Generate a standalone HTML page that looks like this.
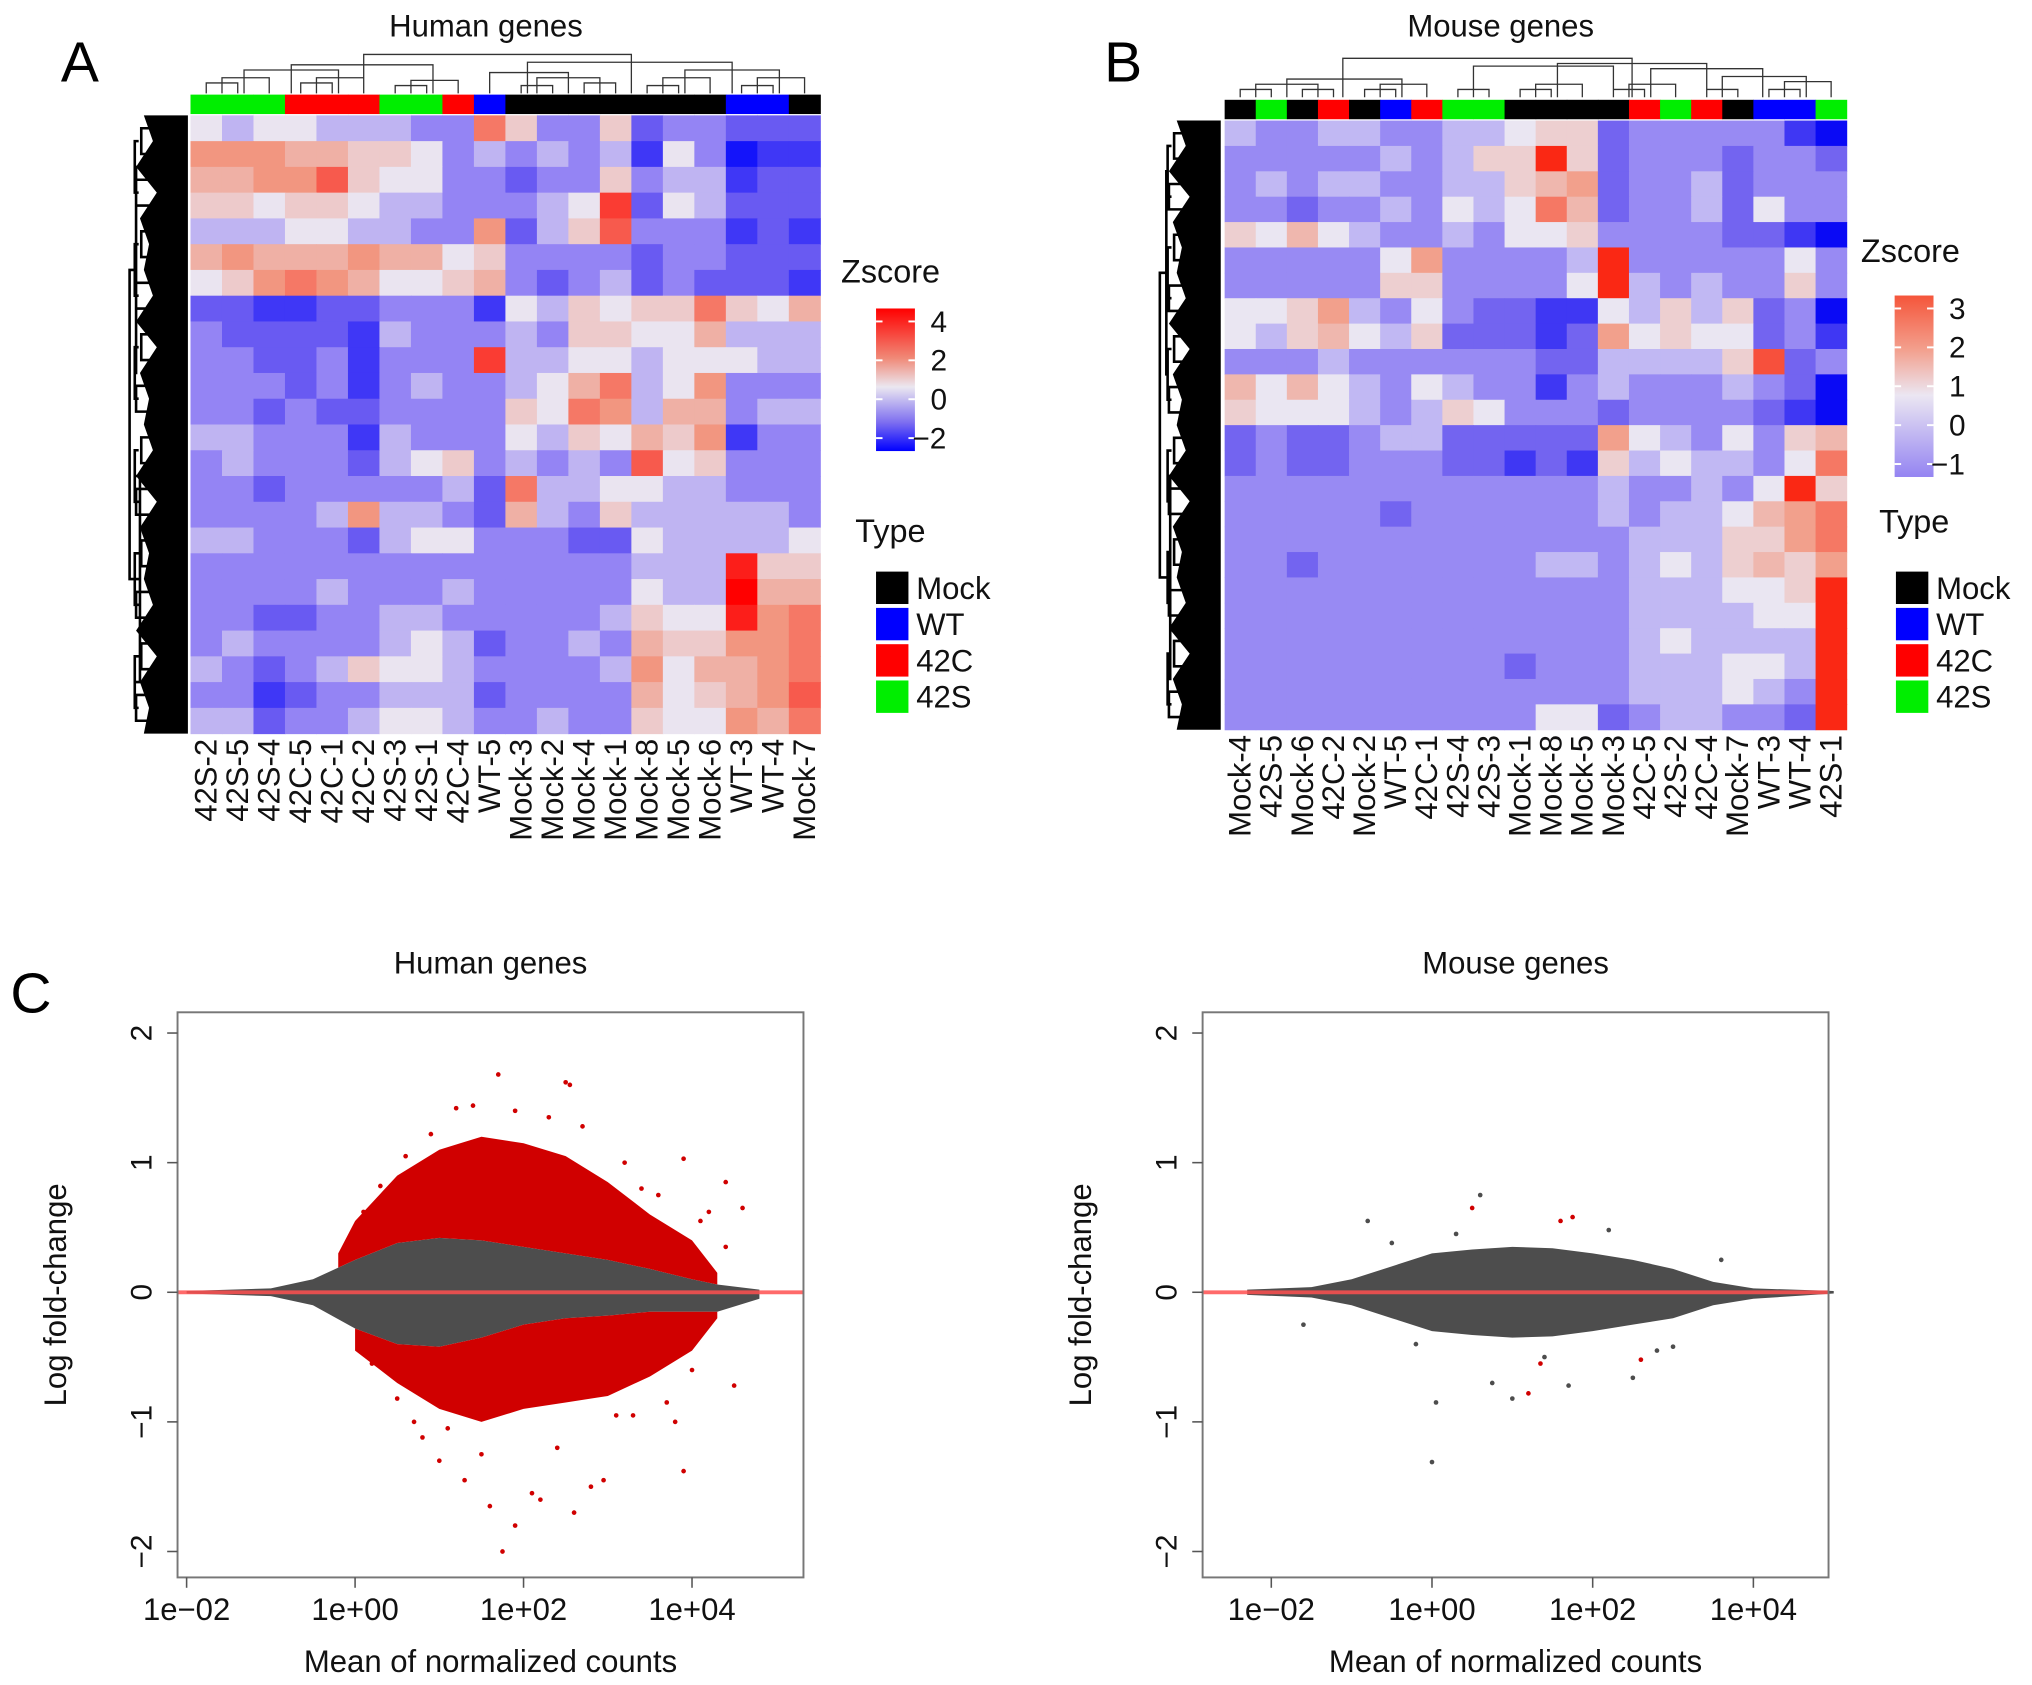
<!DOCTYPE html>
<html><head><meta charset="utf-8"><title>Heatmaps and MA plots</title>
<style>
html,body{margin:0;padding:0;background:#fff;}
svg{display:block;font-family:"Liberation Sans",Arial,sans-serif;}
</style></head>
<body>
<svg id="fig" width="2032" height="1685" viewBox="0 0 1568 1300" preserveAspectRatio="none" xmlns="http://www.w3.org/2000/svg">
<defs>
<linearGradient id="gA" x1="0" y1="0" x2="0" y2="1">
<stop offset="0" stop-color="#ff0000"/><stop offset="0.35" stop-color="#f08a78"/><stop offset="0.55" stop-color="#ebe7f0"/><stop offset="0.8" stop-color="#7d6ef0"/><stop offset="1" stop-color="#0000ff"/>
</linearGradient>
<linearGradient id="gB" x1="0" y1="0" x2="0" y2="1">
<stop offset="0" stop-color="#f5553a"/><stop offset="0.3" stop-color="#f3a08e"/><stop offset="0.55" stop-color="#ebe6f2"/><stop offset="1" stop-color="#9484f2"/>
</linearGradient>
</defs>
</svg>
<script>
// ---------- DATA ----------
const humanLabels = ["42S-2","42S-5","42S-4","42C-5","42C-1","42C-2","42S-3","42S-1","42C-4","WT-5","Mock-3","Mock-2","Mock-4","Mock-1","Mock-8","Mock-5","Mock-6","WT-3","WT-4","Mock-7"];
const mouseLabels = ["Mock-4","42S-5","Mock-6","42C-2","Mock-2","WT-5","42C-1","42S-4","42S-3","Mock-1","Mock-8","Mock-5","Mock-3","42C-5","42S-2","42C-4","Mock-7","WT-3","WT-4","42S-1"];
const typeNames = ["Mock","WT","42C","42S"];
const humanZ = [
[0,-0.5,0,0,-0.5,-0.5,-0.5,-1,-1,2,0.5,-1,-1,0.5,-1.5,-1,-1,-1.5,-1.5,-1.5],
[1.5,1.5,1.5,1,1,0.5,0.5,0,-1,-0.5,-1,-0.5,-1,-0.5,-2,0,-1,-2.5,-2,-2],
[1,1,1.5,1.5,2.5,0.5,0,0,-1,-1,-1.5,-1,-1,0.5,-1,-0.5,-0.5,-2,-1.5,-1.5],
[0.5,0.5,0,0.5,0.5,0,-0.5,-0.5,-1,-1,-1,-0.5,0,3,-1.5,0,-0.5,-1.5,-1.5,-1.5],
[-0.5,-0.5,-0.5,0,0,-0.5,-0.5,-1,-1,1.5,-1.5,-0.5,0.5,2.5,-1,-1,-1,-2,-1.5,-2],
[1,1.5,1,1,1,1.5,1,1,0,0.5,-1,-1,-1,-1,-1.5,-1,-1,-1.5,-1.5,-1.5],
[0,0.5,1.5,2,1.5,1,0,0,0.5,1,-1,-1.5,-1,-0.5,-1.5,-1,-1.5,-1.5,-1.5,-2],
[-1.5,-1.5,-2,-2,-1.5,-1.5,-1,-1,-1,-2,0,-0.5,0.5,0,0.5,0.5,2,0.5,0,1],
[-1,-1.5,-1.5,-1.5,-1.5,-2,-0.5,-1,-1,-1,-0.5,-1,0.5,0.5,0,0,1,-0.5,-0.5,-0.5],
[-1,-1,-1.5,-1.5,-1,-2,-1,-1,-1,3,-0.5,-0.5,0,0,-0.5,0,0,0,-0.5,-0.5],
[-1,-1,-1,-1.5,-1,-2,-1,-0.5,-1,-1,-0.5,0,1,2,-0.5,0,1.5,-1,-1,-1],
[-1,-1,-1.5,-1,-1.5,-1.5,-1,-1,-1,-1,0.5,0,2,1.5,-0.5,1,1,-1,-0.5,-0.5],
[-0.5,-0.5,-1,-1,-1,-2,-0.5,-1,-1,-1,0,-0.5,0.5,0,1,0.5,1.5,-2,-1,-1],
[-1,-0.5,-1,-1,-1,-1.5,-0.5,0,0.5,-1,-0.5,-1,-0.5,-1,2.5,0,0.5,-1,-1,-1],
[-1,-1,-1.5,-1,-1,-1,-1,-1,-0.5,-1.5,2,-0.5,-0.5,0,0,-0.5,-0.5,-1,-1,-1],
[-1,-1,-1,-1,-0.5,1.5,-0.5,-0.5,-1,-1.5,1,-0.5,-1,0.5,-0.5,-0.5,-0.5,-0.5,-0.5,-1],
[-0.5,-0.5,-1,-1,-1,-1.5,-0.5,0,0,-1,-1,-1,-1.5,-1.5,0,-0.5,-0.5,-0.5,-0.5,0],
[-1,-1,-1,-1,-1,-1,-1,-1,-1,-1,-1,-1,-1,-1,-0.5,-0.5,-0.5,3.5,0.5,0.5],
[-1,-1,-1,-1,-0.5,-1,-1,-1,-0.5,-1,-1,-1,-1,-1,0,-0.5,-0.5,4,1,1],
[-1,-1,-1.5,-1.5,-1,-1,-0.5,-0.5,-1,-1,-1,-1,-1,-0.5,0.5,0,0,3.5,1.5,2],
[-1,-0.5,-1,-1,-1,-1,-0.5,0,-0.5,-1.5,-1,-1,-0.5,-1,1,0.5,0.5,1.5,1.5,2],
[-0.5,-1,-1.5,-1,-0.5,0.5,0,0,-0.5,-1,-1,-1,-1,-0.5,1.5,0,1,1,1.5,2],
[-1,-1,-2,-1.5,-1,-1,-0.5,-0.5,-0.5,-1.5,-1,-1,-1,-1,1,0,0.5,1,1.5,2.5],
[-0.5,-0.5,-1.5,-1,-1,-0.5,0,0,-0.5,-1,-1,-0.5,-1,-1,0.5,0,0,1.5,1,2]];
const mouseZ = [
[-0.5,-1,-1,-0.5,-0.5,-1,-1,-0.5,-0.5,0,0.5,0.5,-1.5,-1,-1,-1,-1,-1,-2,-2.5],
[-1,-1,-1,-1,-1,-0.5,-1,-0.5,0.5,0.5,3,0.5,-1.5,-1,-1,-1,-1.5,-1,-1,-1.5],
[-1,-0.5,-1,-0.5,-0.5,-1,-1,-0.5,-0.5,0.5,1,1.5,-1.5,-1,-1,-0.5,-1.5,-1,-1,-1],
[-1,-1,-1.5,-1,-1,-0.5,-1,0,-0.5,0,2,1,-1.5,-1,-1,-0.5,-1.5,0,-1,-1],
[0.5,0,1,0,-0.5,-1,-1,-0.5,-1,0,0,0.5,-1,-1,-1,-1,-1.5,-1.5,-2,-2.5],
[-1,-1,-1,-1,-1,0,1.5,-1,-1,-1,-1,-0.5,3,-1,-1,-1,-1,-1,0,-1],
[-1,-1,-1,-1,-1,0.5,0.5,-1,-1,-1,-1,0,3,-0.5,-1,-0.5,-1,-1,0.5,-1],
[0,0,0.5,1.5,-0.5,-1,0,-1,-1.5,-1.5,-2,-2,0,-0.5,0.5,-0.5,0.5,-1.5,-1,-2.5],
[0,-0.5,0.5,1,0,-0.5,0.5,-1.5,-1.5,-1.5,-2,-1.5,1.5,0,0.5,0,0,-1.5,-1,-2],
[-1,-1,-1,-0.5,-1,-1,-1,-1,-1,-1,-1.5,-1.5,-0.5,-0.5,-0.5,-0.5,0.5,2.5,-1.5,-1],
[1,0,1,0,-0.5,-1,0,-0.5,-1,-1,-2,-1,-0.5,-1,-1,-1,-0.5,-1,-1.5,-2.5],
[0.5,0,0,0,-0.5,-1,-0.5,0.5,0,-1,-1,-1,-1.5,-1,-1,-1,-1,-1.5,-2,-2.5],
[-1.5,-1,-1.5,-1.5,-1,-0.5,-0.5,-1.5,-1.5,-1.5,-1.5,-1.5,1.5,0,-0.5,-1,0,-1,0.5,1],
[-1.5,-1,-1.5,-1.5,-1,-1,-1,-1.5,-1.5,-2,-1.5,-2,0.5,-0.5,0,-0.5,-0.5,-1,0,2],
[-1,-1,-1,-1,-1,-1,-1,-1,-1,-1,-1,-1,-0.5,-1,-1,-0.5,-1,0,3.5,0.5],
[-1,-1,-1,-1,-1,-1.5,-1,-1,-1,-1,-1,-1,-0.5,-1,-0.5,-0.5,0,1,1.5,2],
[-1,-1,-1,-1,-1,-1,-1,-1,-1,-1,-1,-1,-1,-0.5,-0.5,-0.5,0.5,0.5,1.5,2],
[-1,-1,-1.5,-1,-1,-1,-1,-1,-1,-1,-0.5,-0.5,-1,-0.5,0,-0.5,0.5,1,0.5,1.5],
[-1,-1,-1,-1,-1,-1,-1,-1,-1,-1,-1,-1,-1,-0.5,-0.5,-0.5,0,0,0.5,3],
[-1,-1,-1,-1,-1,-1,-1,-1,-1,-1,-1,-1,-1,-0.5,-0.5,-0.5,-0.5,0,0,3],
[-1,-1,-1,-1,-1,-1,-1,-1,-1,-1,-1,-1,-1,-0.5,0,-0.5,-0.5,-0.5,-0.5,3],
[-1,-1,-1,-1,-1,-1,-1,-1,-1,-1.5,-1,-1,-1,-0.5,-0.5,-0.5,0,0,-0.5,3],
[-1,-1,-1,-1,-1,-1,-1,-1,-1,-1,-1,-1,-1,-0.5,-0.5,-0.5,0,-0.5,-1,3],
[-1,-1,-1,-1,-1,-1,-1,-1,-1,-1,0,0,-1.5,-1,-0.5,-0.5,-1,-1,-1.5,3]];
const humanZTicks = [4,2,0,-2];
const mouseZTicks = [3,2,1,0,-1];
// MA plot envelopes (x = log10 mean count, values = log fold change)
const humanGreyX = [-2,-1,-0.5,0,0.5,1,1.5,2,2.5,3,3.5,4,4.3,4.8];
const humanGreyHi = [0.01,0.03,0.1,0.25,0.38,0.42,0.4,0.35,0.3,0.25,0.18,0.1,0.06,0.02];
const humanGreyLo = [-0.01,-0.03,-0.1,-0.28,-0.4,-0.42,-0.35,-0.25,-0.2,-0.18,-0.15,-0.15,-0.15,-0.05];
const humanRedUpX = [-0.2,0,0.5,1,1.5,2,2.5,3,3.5,4,4.3];
const humanRedUpHi = [0.3,0.55,0.9,1.1,1.2,1.15,1.05,0.85,0.6,0.4,0.15];
const humanRedLoX = [0,0.5,1,1.5,2,2.5,3,3.5,4,4.3];
const humanRedLoLo = [-0.45,-0.7,-0.9,-1.0,-0.9,-0.85,-0.8,-0.65,-0.45,-0.2];
const humanRedPtsX = [1.7,2.5,2.55,1.2,1.4,1.9,2.3,3.9,4.4,4.6,0.8,1.0,1.3,1.6,1.9,2.2,2.6,2.8,2.95,3.8,3.9,4.5,1.5,1.75,2.1,2.4,0.1,0.3,0.6,0.4,0.9,3.2,3.4,3.6,4.1,4.2,0.2,0.5,0.7,3.3,3.7,4.0,4.4,1.1,2.7,3.1];
const humanRedPtsY = [1.68,1.62,1.6,1.42,1.44,1.4,1.35,1.03,0.85,0.65,-1.12,-1.3,-1.45,-1.65,-1.8,-1.6,-1.7,-1.5,-1.45,-1.0,-1.38,-0.72,-1.25,-2.0,-1.55,-1.2,0.62,0.82,1.05,-0.62,1.22,1.0,0.8,0.75,0.55,0.62,-0.55,-0.82,-1.0,-0.95,-0.85,-0.6,0.35,-1.05,1.28,-0.95];
const mouseGreyX = [-2.3,-1.5,-1,-0.5,0,0.5,1,1.5,2,2.5,3,3.5,4,4.5,5];
const mouseGreyHi = [0.02,0.04,0.1,0.2,0.3,0.33,0.35,0.34,0.3,0.25,0.18,0.08,0.03,0.02,0.01];
const mouseGreyLo = [-0.02,-0.04,-0.1,-0.2,-0.3,-0.33,-0.35,-0.34,-0.3,-0.25,-0.2,-0.1,-0.05,-0.03,-0.01];
const mousePtsX = [0.6,-0.8,0.0,1.0,0.75,1.7,0.05,2.5,3.6,2.8,-1.6,-0.5,0.3,2.2,3.0,-0.2,1.4];
const mousePtsY = [0.75,0.55,-1.31,-0.82,-0.7,-0.72,-0.85,-0.66,0.25,-0.45,-0.25,0.38,0.45,0.48,-0.42,-0.4,-0.5];
const mouseRedPtsX = [0.5,1.6,1.75,1.2,1.35,2.6];
const mouseRedPtsY = [0.65,0.55,0.58,-0.78,-0.55,-0.52];

// ---------- HELPERS ----------
const NS = "http://www.w3.org/2000/svg";
const svg = document.getElementById('fig');
function mk(tag, attrs, parent){
  const e = document.createElementNS(NS, tag);
  for (const k in attrs) e.setAttribute(k, attrs[k]);
  (parent||svg).appendChild(e);
  return e;
}
function txt(s, attrs, parent){ const t = mk('text', attrs, parent); t.textContent = s; return t; }
const typeColor = {Mock:"#000000",WT:"#0000ff","42C":"#ff0000","42S":"#00ee00"};
function typeOf(l){ return l.split('-')[0]; }
function lerp(a,b,t){ return Math.round(a+(b-a)*t); }
function zColor(v, stops){
  if (v<=stops[0][0]) return `rgb(${stops[0][1]})`;
  for (let i=1;i<stops.length;i++){
    if (v<=stops[i][0]){
      const t=(v-stops[i-1][0])/(stops[i][0]-stops[i-1][0]);
      const a=stops[i-1][1], b=stops[i][1];
      return `rgb(${lerp(a[0],b[0],t)},${lerp(a[1],b[1],t)},${lerp(a[2],b[2],t)})`;
    }
  }
  return `rgb(${stops[stops.length-1][1]})`;
}
const stopsA = [[-2.5,[20,20,250]],[-1.5,[105,90,242]],[-1,[148,132,244]],[0,[234,228,240]],[1.5,[242,150,128]],[4,[255,0,0]]];
const stopsB = [[-2.5,[10,10,245]],[-1.5,[115,100,240]],[-1,[152,138,243]],[0,[234,230,242]],[1.5,[242,160,140]],[3,[250,40,20]]];

function heatmap(g, prefix, labels, Z, x0, y0, w, h, stops){
  const cw = w/labels.length, rh = h/Z.length;
  Z.forEach((row,r)=>row.forEach((v,c)=>{
    const cell = mk('rect',{x:(x0+c*cw).toFixed(2),y:(y0+r*rh).toFixed(2),width:(cw+0.4).toFixed(2),height:(rh+0.4).toFixed(2),fill:zColor(v,stops)},g);
    
    
  }));
  labels.forEach((l,c)=>{
    const bar = mk('rect',{x:(x0+c*cw).toFixed(2),y:y0-16,width:(cw+0.4).toFixed(2),height:15,fill:typeColor[typeOf(l)]},g);
    
    
    const cx = x0+(c+0.5)*cw+8;
    const t = txt(l,{x:cx,y:y0+h+4,transform:`rotate(-90 ${cx} ${y0+h+4})`,'text-anchor':'end','font-size':24,fill:'#111'},g);
    
    
  });
}
function rowDendro(g, prefix, x0, x1, y0, y1){
  const n=24, step=(y1-y0)/n;
  // dense black leaf mass with jagged left edge
  let pd=`M${x1} ${y0}`;
  for(let i=0;i<=n;i++){ const yy=y0+i*step; const xx=x1-(i%2?24:34)-(i%3)*3; pd+=`L${xx} ${yy}`; }
  pd+=`L${x1} ${y1}Z`;
  const blk = mk('path',{d:pd,fill:'#000'},g);
  
  
  let d='';
  for(let i=0;i<n;i+=2){ const a=y0+(i+0.5)*step, b=y0+(i+1.5)*step, xm=x1-36-(i%4)*2;
    d+=`M${x1-26} ${a}H${xm}V${b}H${x1-26}`; }
  for(let i=0;i<n;i+=4){ const a=y0+(i+1)*step, b=y0+(i+3)*step, xm=x1-41;
    d+=`M${x1-38} ${a}H${xm}V${b}H${x1-38}`; }
  d+=`M${x1-41} ${y0+2*step}H${x0+5}V${y0+10*step}H${x1-41}`;
  d+=`M${x1-41} ${y0+14*step}H${x0+8}V${y0+22*step}H${x1-41}`;
  d+=`M${x0+5} ${y0+6*step}H${x0}V${y0+18*step}H${x0+8}`;
  const p = mk('path',{d:d,stroke:'#000','stroke-width':2,fill:'none'},g);
  
  
}
function colDendro(g, prefix, x0, w, n, yb, pairs){
  const cw=w/n; let d='';
  pairs.forEach(([a,b,hgt])=>{ const xa=x0+(a+0.5)*cw, xb=x0+(b+0.5)*cw;
    d+=`M${xa} ${yb}V${yb-hgt}H${xb}V${yb}`; });
  const p = mk('path',{d:d,stroke:'#333','stroke-width':1,fill:'none'},g);
  
  
}
function zLegend(g, prefix, x, y, h, ticks, grad, title, tx, ty){
  const t = txt(title,{x:tx,y:ty,'font-size':25,fill:'#111'},g);
  
  
  const r = mk('rect',{x:x,y:y,width:30,height:h,fill:`url(#${grad})`},g);
  
  
  const step=(h-20)/(ticks.length-1);
  ticks.forEach((v,i)=>{
    const yy=y+10+i*step;
    const l = mk('line',{x1:x,x2:x+5,y1:yy,y2:yy,stroke:'#fff','stroke-width':1.5},g);
    
    
    const l2 = mk('line',{x1:x+25,x2:x+30,y1:yy,y2:yy,stroke:'#fff','stroke-width':1.5},g);
    
    
    const lb = txt(v<0?'\u2212'+Math.abs(v):String(v),{x:x+(v<0?28:42),y:yy+8,'font-size':23,fill:'#111'},g);
    
    
  });
}
function typeLegend(g, prefix, x, y, tx, ty){
  const t = txt('Type',{x:tx,y:ty,'font-size':25,fill:'#111'},g);
  
  
  typeNames.forEach((n,i)=>{
    const s = mk('rect',{x:x,y:y+i*28,width:25,height:25,fill:typeColor[n]},g);
    
    
    const l = txt(n,{x:x+31,y:y+i*28+21,'font-size':24,fill:'#111'},g);
    
    
  });
}

// ---------- PANEL A ----------
const gA = mk('g',{});  
const tA = txt('Human genes',{x:375,y:28,'text-anchor':'middle','font-size':24,fill:'#111'},gA);
 
const la = txt('A',{x:47,y:63,'font-size':44,fill:'#000'},gA);
 
colDendro(gA,'panel-a',147,486,20,72,[[0,1,8],[0.5,2,12],[3,4,8],[3.5,5,12],[1.2,4.2,18],[6,7,6],[6.5,8,10],[2.7,7.2,22],[10,11,6],[12,13,8],[10.5,12.5,12],[9,11.5,16],[14,15,6],[14.5,16,12],[17,18,6],[17.5,19,12],[15.2,18.2,18],[10.2,16.7,24],[5,13.5,30]]);
heatmap(gA,'panel-a',humanLabels,humanZ,147,89,486,477,stopsA);
rowDendro(gA,'panel-a',100,145,89,566);
zLegend(gA,'panel-a',676,238,110,humanZTicks,'gA','Zscore',649,218);
typeLegend(gA,'panel-a',676,441,660,418);

// ---------- PANEL B ----------
const gB = mk('g',{});  
const tB = txt('Mouse genes',{x:1158,y:28,'text-anchor':'middle','font-size':24,fill:'#111'},gB);
 
const lb = txt('B',{x:852,y:63,'font-size':44,fill:'#000'},gB);
 
colDendro(gB,'panel-b',945,480,20,75,[[0,1,6],[2,3,6],[0.5,2.5,10],[4,5,6],[4.5,6,10],[7,8,6],[1.5,5.2,14],[9,10,6],[9.5,11,10],[12,13,6],[12.5,14,10],[15,16,6],[17,18,6],[17.5,19,12],[15.5,18.2,16],[13.2,16.8,22],[10.2,15,26],[3.3,12.6,30],[7.5,12,24]]);
heatmap(gB,'panel-b',mouseLabels,mouseZ,945,93,480,470,stopsB);
rowDendro(gB,'panel-b',895,942,93,563);
zLegend(gB,'panel-b',1462,228,140,mouseZTicks,'gB','Zscore',1436,202);
typeLegend(gB,'panel-b',1463,441,1450,411);

// ---------- MA PLOTS ----------
function maPlot(prefix, title, bx0, bx1, xZero, dec, greyX, gHi, gLo, extra){
  const g = mk('g',{});  
  const yZero=997, yUnit=100, by0=781, by1=1217;
  const X=v=>xZero+dec*v, Y=v=>yZero-yUnit*v;
  const tt = txt(title,{x:(bx0+bx1)/2,y:751,'text-anchor':'middle','font-size':24,fill:'#111'},g);
   
  let d='M'+greyX.map((x,i)=>`${X(x)} ${Y(gHi[i])}`).join('L')+'L'+greyX.slice().reverse().map((x,i)=>`${X(x)} ${Y(gLo[gLo.length-1-i])}`).join('L')+'Z';
  const grey = mk('path',{d:d,fill:'#4d4d4d'},g);
   
  extra(g,X,Y);
  const zl = mk('line',{x1:bx0,x2:bx1,y1:Y(0),y2:Y(0),stroke:'#ff5050','stroke-width':3,'stroke-opacity':0.85},g);
   
  const box = mk('rect',{x:bx0,y:by0,width:bx1-bx0,height:by1-by0,fill:'none',stroke:'#777','stroke-width':1.5},g);
   
  [2,1,0,-1,-2].forEach(v=>{
    const tk = mk('line',{x1:bx0-8,x2:bx0,y1:Y(v),y2:Y(v),stroke:'#555','stroke-width':1.2},g);
     
    const lx=bx0-20;
    const tl = txt(v<0?'\u2212'+Math.abs(v):String(v),{x:lx,y:Y(v),transform:`rotate(-90 ${lx} ${Y(v)})`,'text-anchor':'middle','font-size':23,fill:'#111'},g);
     
  });
  [-2,0,2,4].forEach(p=>{
    const tk = mk('line',{x1:X(p),x2:X(p),y1:by1,y2:by1+8,stroke:'#555','stroke-width':1.2},g);
     
    const s = '1e'+(p<0?'\u2212':'+')+('0'+Math.abs(p));
    const tl = txt(s,{x:X(p),y:1250,'text-anchor':'middle','font-size':24,fill:'#111'},g);
     
  });
  const xl = txt('Mean of normalized counts',{x:(bx0+bx1)/2,y:1290,'text-anchor':'middle','font-size':24,fill:'#111'},g);
   
  const yx=bx0-86, yy=(by0+by1)/2;
  const yl = txt('Log fold-change',{x:yx,y:yy,transform:`rotate(-90 ${yx} ${yy})`,'text-anchor':'middle','font-size':24,fill:'#111'},g);
   
  return g;
}
const lc = txt('C',{x:8,y:781,'font-size':44,fill:'#000'});
 
maPlot('human-ma-plot','Human genes',137,620,274,65,humanGreyX,humanGreyHi,humanGreyLo,(g,X,Y)=>{
  const gi = x=>{ for(let i=1;i<humanGreyX.length;i++) if(x<=humanGreyX[i]){const t=(x-humanGreyX[i-1])/(humanGreyX[i]-humanGreyX[i-1]); return [humanGreyHi[i-1]+(humanGreyHi[i]-humanGreyHi[i-1])*t, humanGreyLo[i-1]+(humanGreyLo[i]-humanGreyLo[i-1])*t];} return [0,0]; };
  let d='M'+humanRedUpX.map((x,i)=>`${X(x)} ${Y(humanRedUpHi[i])}`).join('L')+'L'+humanRedUpX.slice().reverse().map(x=>`${X(x)} ${Y(gi(x)[0])}`).join('L')+'Z';
  const up = mk('path',{d:d,fill:'#d00000'},g);
   
  d='M'+humanRedLoX.map(x=>`${X(x)} ${Y(gi(x)[1])}`).join('L')+'L'+humanRedLoX.slice().reverse().map((x,i)=>`${X(x)} ${Y(humanRedLoLo[humanRedLoLo.length-1-i])}`).join('L')+'Z';
  const dn = mk('path',{d:d,fill:'#d00000'},g);
   
  humanRedPtsX.forEach((x,i)=>{
    const c = mk('circle',{cx:X(x),cy:Y(humanRedPtsY[i]),r:1.8,fill:'#d00000'},g);
     
  });
});
maPlot('mouse-ma-plot','Mouse genes',928,1411,1105,62,mouseGreyX,mouseGreyHi,mouseGreyLo,(g,X,Y)=>{
  mousePtsX.forEach((x,i)=>{
    const c = mk('circle',{cx:X(x),cy:Y(mousePtsY[i]),r:1.8,fill:'#4d4d4d'},g);
     
  });
  mouseRedPtsX.forEach((x,i)=>{
    const c = mk('circle',{cx:X(x),cy:Y(mouseRedPtsY[i]),r:1.8,fill:'#d00000'},g);
     
  });
});
</script>
</body></html>
